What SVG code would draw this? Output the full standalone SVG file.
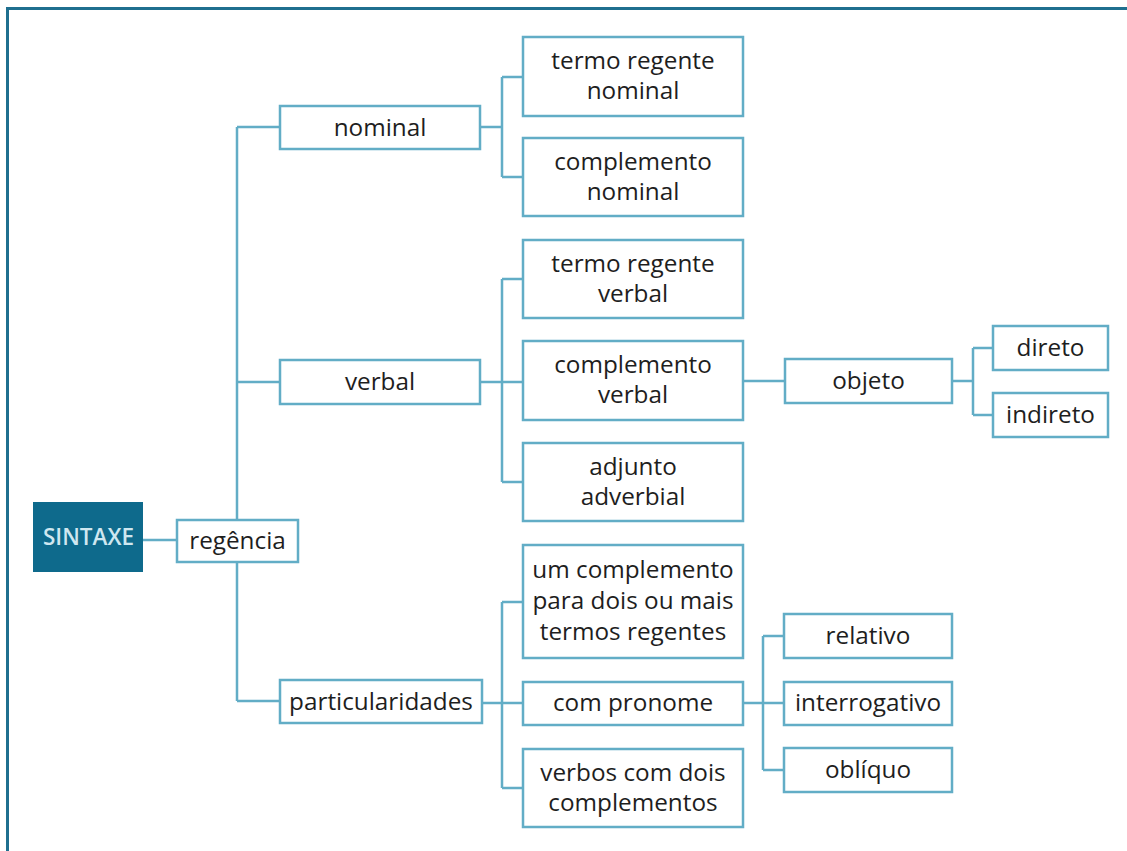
<svg xmlns="http://www.w3.org/2000/svg" width="1127" height="851" viewBox="0 0 1127 851">
<style>
.bx{fill:#fff;stroke:#62adc6;stroke-width:2.5}
.ln{fill:none;stroke:#62adc6;stroke-width:2.5}
.t{font-family:"Open Sans","Noto Sans",sans-serif;font-size:24.3px;fill:#1e1e1e;text-anchor:middle}
.tw{font-family:"Open Sans","Noto Sans",sans-serif;font-size:22.5px;font-weight:600;fill:#cfe7f0;text-anchor:middle}
</style>
<rect width="1127" height="851" fill="#fff"/>
<path d="M7.5,851 V8.5 H1127" fill="none" stroke="#1f6f8f" stroke-width="3"/>
<g id="connectors">
<path class="ln" d="M143,540 H177"/>
<path class="ln" d="M237,127 V701 M237,127 H280 M237,382 H280 M237,701 H280"/>
<path class="ln" d="M480,127 H502 M502,77 V177 M502,77 H523 M502,177 H523"/>
<path class="ln" d="M480,382 H523 M502,279 V482 M502,279 H523 M502,482 H523"/>
<path class="ln" d="M482,703 H523 M502,602 V788 M502,602 H523 M502,788 H523"/>
<path class="ln" d="M743,381 H785"/>
<path class="ln" d="M952,381 H973 M973,348 V415 M973,348 H993 M973,415 H993"/>
<path class="ln" d="M743,703 H784 M763,636 V770 M763,636 H784 M763,770 H784"/>
</g>
<g id="sintaxe"><rect x="33" y="502" width="110" height="70" fill="#0e6a8c"/><text class="tw" x="88.5" y="545">SINTAXE</text></g>
<g id="regencia"><rect class="bx" x="177" y="520" width="121" height="42"/><text class="t" x="237.5" y="549">regência</text></g>
<g id="nominal"><rect class="bx" x="280" y="106" width="200" height="43"/><text class="t" x="380" y="135.5">nominal</text></g>
<g id="verbal"><rect class="bx" x="280" y="360" width="200" height="44"/><text class="t" x="380" y="390">verbal</text></g>
<g id="particularidades"><rect class="bx" x="280" y="680" width="202" height="43"/><text class="t" x="381" y="709.5">particularidades</text></g>
<g id="termo-regente-nominal"><rect class="bx" x="523" y="37" width="220" height="79"/><text class="t" x="633" y="69">termo regente</text><text class="t" x="633" y="99">nominal</text></g>
<g id="complemento-nominal"><rect class="bx" x="523" y="138" width="220" height="78"/><text class="t" x="633" y="170">complemento</text><text class="t" x="633" y="200">nominal</text></g>
<g id="termo-regente-verbal"><rect class="bx" x="523" y="240" width="220" height="78"/><text class="t" x="633" y="272">termo regente</text><text class="t" x="633" y="302">verbal</text></g>
<g id="complemento-verbal"><rect class="bx" x="523" y="341" width="220" height="79"/><text class="t" x="633" y="373">complemento</text><text class="t" x="633" y="403">verbal</text></g>
<g id="adjunto-adverbial"><rect class="bx" x="523" y="443" width="220" height="78"/><text class="t" x="633" y="475">adjunto</text><text class="t" x="633" y="505">adverbial</text></g>
<g id="um-complemento"><rect class="bx" x="523" y="545" width="220" height="113"/><text class="t" x="633" y="578">um complemento</text><text class="t" x="633" y="609">para dois ou mais</text><text class="t" x="633" y="640">termos regentes</text></g>
<g id="com-pronome"><rect class="bx" x="523" y="682" width="220" height="43"/><text class="t" x="633" y="711">com pronome</text></g>
<g id="verbos-com-dois"><rect class="bx" x="523" y="749" width="220" height="78"/><text class="t" x="633" y="781">verbos com dois</text><text class="t" x="633" y="811">complementos</text></g>
<g id="objeto"><rect class="bx" x="785" y="359" width="167" height="44"/><text class="t" x="868.5" y="389">objeto</text></g>
<g id="direto"><rect class="bx" x="993" y="326" width="115" height="44"/><text class="t" x="1050.5" y="356">direto</text></g>
<g id="indireto"><rect class="bx" x="993" y="393" width="115" height="44"/><text class="t" x="1050.5" y="423">indireto</text></g>
<g id="relativo"><rect class="bx" x="784" y="614" width="168" height="44"/><text class="t" x="868" y="644">relativo</text></g>
<g id="interrogativo"><rect class="bx" x="784" y="682" width="168" height="43"/><text class="t" x="868" y="711">interrogativo</text></g>
<g id="obliquo"><rect class="bx" x="784" y="748" width="168" height="44"/><text class="t" x="868" y="778">oblíquo</text></g>
</svg>
